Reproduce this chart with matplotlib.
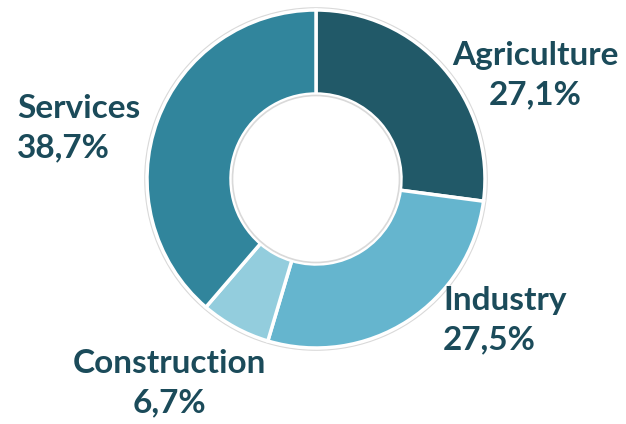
import matplotlib
matplotlib.use('agg')
import matplotlib.pyplot as plt
from matplotlib.patches import Circle

# sector shares (%), clockwise from 12 o'clock
sectors=['Agriculture','Industry','Construction','Services']
shares=[27.1,27.5,6.7,38.7]
labels=['27,1%','27,5%','6,7%','38,7%']
slice_colors=['#215968','#65b5ce','#93cddd','#31859c']
text_color='#1b4b5a'

W,H=626,424
fig=plt.figure(figsize=(W/100,H/100),dpi=100)
ax=fig.add_axes([0,0,1,1])

# pixel coords from top-left -> data coords
cx,cy,r_out,r_in=316,H-179,169,85

ax.add_patch(Circle((cx,cy),r_out+2,facecolor='none',edgecolor='#d9d9d9',lw=1.2,zorder=1))
ax.pie(shares,colors=slice_colors,startangle=90,counterclock=False,
       center=(cx,cy),radius=r_out,frame=True,
       wedgeprops=dict(width=r_out-r_in,edgecolor='white',linewidth=2.5))
ax.add_patch(Circle((cx,cy),r_in-1.5,facecolor='none',edgecolor='#d9d9d9',lw=1.2,zorder=5))
ax.set_xlim(0,W)
ax.set_ylim(0,H)
ax.axis('off')

# label anchor (x px, y px of block centre, alignment)
label_pos=[(535,75,'center'),(443,320,'left'),(169,383,'center'),(17,128,'left')]
for name,val,(x,y,ha) in zip(sectors,labels,label_pos):
    ax.text(x,H-y,f'{name}\n{val}',ha=ha,va='center',multialignment=ha,color=text_color,
            fontsize=24,fontweight='bold',family='Lato',linespacing=1.45)

fig.savefig('out.png',dpi=100)
